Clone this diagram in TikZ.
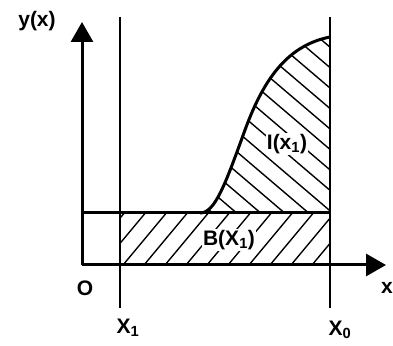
\documentclass[tikz,border=0pt]{standalone}
\usepackage{fontspec}
\setmainfont{Liberation Sans}
\usetikzlibrary{arrows.meta}
\tikzset{
  axis/.style={line width=3pt, -{Triangle[length=20pt,width=22pt]}},
  guide/.style={line width=1.8pt},
  level/.style={line width=3pt},
  hatch/.style={line width=1.4pt},
  lbl/.style={font=\fontsize{21}{21}\selectfont\bfseries, inner sep=0pt}
}

\begin{document}
\begin{tikzpicture}[x=1pt,y=1pt]
  \useasboundingbox (0,0) rectangle (393,345);

  % axes
  \coordinate (O) at (82,80);
  \coordinate (ytip) at (82,323);
  \coordinate (xtip) at (386,80);
  \draw[axis] (O) -- (ytip);
  \draw[axis] (O) -- (xtip);

  % vertical lines at X1 and X0
  \coordinate (xonetop) at (120,328);
  \coordinate (xonebot) at (120,37);
  \coordinate (xzerotop) at (330,328);
  \coordinate (xzerobot) at (330,37);
  \draw[guide] (xonetop) -- (xonebot);
  \draw[guide] (xzerotop) -- (xzerobot);

  % hatching of B(X1)
  \begin{scope}
    \clip (120,80) rectangle (330,132);
    \foreach \s in {60,81,...,340}
      \draw[hatch] (\s,80) -- ++(60,72);
  \end{scope}

  % hatching of I(x1)
  \begin{scope}
    \clip (200,132) .. controls (215,132) and (225,160) .. (245,215)
          .. controls (265,270) and (290,300) .. (330,308) -- (330,132) -- cycle;
    \foreach \s in {-80,-56,...,340}
      \draw[hatch] (\s,320) -- ++(460,-392);
  \end{scope}

  % level line and curve
  \coordinate (lvl) at (82,132);
  \coordinate (knee) at (200,132);
  \coordinate (lvlend) at (330,132);
  \coordinate (top) at (330,308);
  \draw[level] (lvl) -- (lvlend);
  \draw[level] (knee) .. controls (215,132) and (225,160) .. (245,215)
        .. controls (265,270) and (290,300) .. (top);

  % labels
  \node[lbl] (ylabel) at (37,324) {y(x)};
  \node[lbl] (xlabel) at (387,57) {x};
  \node[lbl] (origin) at (85,57) {O};
  \node[lbl] (xone) at (128,17) {X\textsubscript{1}};
  \node[lbl] (xzero) at (340,15) {X\textsubscript{0}};
  \node[lbl, fill=white, inner sep=1pt] (ilabel) at (287,201) {I(x\textsubscript{1})};
  \node[lbl, fill=white, inner sep=1pt] (blabel) at (229,105) {B(X\textsubscript{1})};
\end{tikzpicture}
\end{document}
